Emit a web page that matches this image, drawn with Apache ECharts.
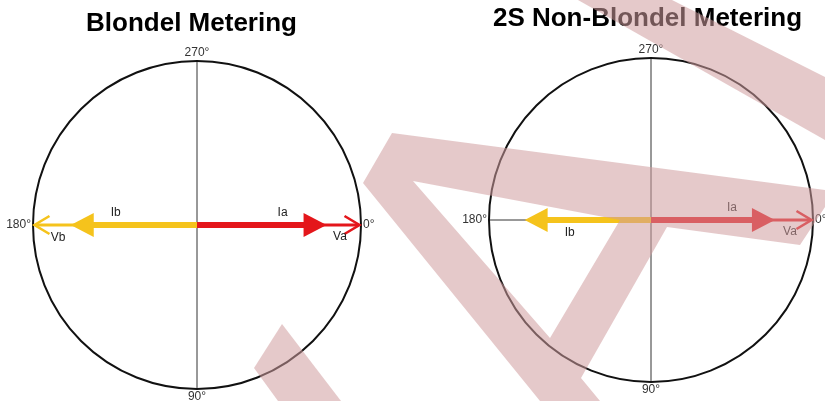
<!DOCTYPE html>
<html><head><meta charset="utf-8">
<script src="https://cdn.jsdelivr.net/npm/echarts@6/dist/echarts.min.js"></script>
<style>html,body{margin:0;padding:0;background:#fff}#c{width:825px;height:401px}</style>
</head><body><div id="c"></div>
<script>
// ---------- data ----------
const chartTitles = ['Blondel Metering', '2S Non-Blondel Metering'];
const angleTicks = [0, 90, 180, 270];           // degrees, tick labels get a "°"
// phasors: [magnitude (fraction of reference circle), angle in degrees]
const blondelVa = [1.00, 0];
const blondelIa = [0.79, 0];
const blondelVb = [1.00, 180];
const blondelIb = [0.77, 180];
const nonBlondelVa = [1.00, 0];
const nonBlondelIa = [0.765, 0];
const nonBlondelIb = [0.78, 180];

// ---------- styles ----------
const FONT = '"Liberation Sans", Arial, Helvetica, sans-serif';
const RED = '#e4161b';
const YELLOW = '#f5c31c';

function phasor(name, polarIndex, vec, kind, color, labelOff) {
  const isI = kind === 'I';
  return {
    type: 'custom', name, coordinateSystem: 'polar', polarIndex,
    silent: true, animation: false, z: isI ? 4 : 3,
    data: [vec],
    renderItem: function (params, api) {
      const mag = api.value(0), ang = api.value(1);
      const o = api.coord([0, ang]);
      const p = api.coord([mag, ang]);
      const dx = p[0] - o[0], dy = p[1] - o[1];
      const len = Math.hypot(dx, dy) || 1;
      const ux = dx / len, uy = dy / len, nx = -uy, ny = ux;
      const children = [];
      if (isI) {
        const L = 23, W = 12;
        const b = [p[0] - ux * L, p[1] - uy * L];
        children.push({type: 'line', shape: {x1: o[0], y1: o[1], x2: b[0] + ux, y2: b[1] + uy},
          style: {stroke: color, lineWidth: 6}});
        children.push({type: 'polygon', shape: {points: [[p[0], p[1]], [b[0] + nx * W, b[1] + ny * W], [b[0] - nx * W, b[1] - ny * W]]},
          style: {fill: color}});
      } else {
        const L = 15, W = 9;
        const t = [p[0] - ux * 1.5, p[1] - uy * 1.5];
        const b = [t[0] - ux * L, t[1] - uy * L];
        children.push({type: 'line', shape: {x1: o[0], y1: o[1], x2: t[0] - ux * 1.5, y2: t[1] - uy * 1.5},
          style: {stroke: color, lineWidth: 3}});
        children.push({type: 'polyline', shape: {points: [[b[0] + nx * W, b[1] + ny * W], [t[0], t[1]], [b[0] - nx * W, b[1] - ny * W]]},
          style: {stroke: color, lineWidth: 2.6, fill: 'none', lineJoin: 'miter'}});
      }
      children.push({type: 'text', x: p[0] + labelOff[0], y: p[1] + labelOff[1],
        style: {text: name, fill: '#222', font: '12px ' + FONT, align: 'center', verticalAlign: 'middle'}});
      return {type: 'group', children};
    }
  };
}

function angleAxis(i) {
  return {
    polarIndex: i, type: 'value', min: 0, max: 360, interval: 90, startAngle: 0, clockwise: true,
    axisLine: {show: true, lineStyle: {color: '#111', width: 2}},
    axisTick: {show: false},
    axisLabel: {show: true, margin: 2, color: '#333', fontSize: 12, fontFamily: FONT,
      formatter: v => angleTicks.indexOf(v) >= 0 ? v + '°' : ''},
    splitLine: {show: true, lineStyle: {color: '#333', width: 1}},
    splitArea: {show: false}
  };
}
function radiusAxis(i) {
  return {polarIndex: i, type: 'value', min: 0, max: 1, show: false,
    axisLine: {show: false}, axisTick: {show: false}, axisLabel: {show: false}, splitLine: {show: false}};
}

const WM = 'rgba(208,157,159,0.55)';
const option = {
  backgroundColor: '#fff',
  animation: false,
  title: [
    {text: chartTitles[0], left: 191.5, top: 11, textAlign: 'center', padding: 0,
      textStyle: {fontSize: 26, fontWeight: 'bold', color: '#000', fontFamily: FONT}},
    {text: chartTitles[1], left: 647.5, top: 6, textAlign: 'center', padding: 0,
      textStyle: {fontSize: 26, fontWeight: 'bold', color: '#000', fontFamily: FONT}}
  ],
  polar: [
    {center: [197, 225], radius: 164},
    {center: [651, 220], radius: 162}
  ],
  angleAxis: [angleAxis(0), angleAxis(1)],
  radiusAxis: [radiusAxis(0), radiusAxis(1)],
  series: [
    phasor('Va', 0, blondelVa, 'V', RED, [-21, 12]),
    phasor('Vb', 0, blondelVb, 'V', YELLOW, [25, 13]),
    phasor('Ia', 0, blondelIa, 'I', RED, [-44, -12]),
    phasor('Ib', 0, blondelIb, 'I', YELLOW, [45, -12]),
    phasor('Va', 1, nonBlondelVa, 'V', RED, [-23, 12]),
    phasor('Ia', 1, nonBlondelIa, 'I', RED, [-43, -12]),
    phasor('Ib', 1, nonBlondelIb, 'I', YELLOW, [45, 13])
  ],
  graphic: [
    {type: 'polygon', z: 100, silent: true, style: {fill: WM},
      shape: {points: [[282, 324], [341, 401], [278, 401], [254, 368]]}},
    {type: 'polygon', z: 100, silent: true, style: {fill: WM},
      shape: {points: [[363, 183], [392, 133], [825, 190], [825, 207], [800, 245], [667, 227], [581, 378], [600, 401], [540, 401], [363, 183],
                       [413, 181], [550, 338], [620, 220], [413, 181]]}},
    {type: 'polygon', z: 100, silent: true, style: {fill: WM},
      shape: {points: [[578, 0], [672, 0], [825, 77], [825, 140]]}}
  ]
};
const chart = echarts.init(document.getElementById('c'), null, {renderer: 'canvas'});
chart.setOption(option);
</script>
</body></html>
